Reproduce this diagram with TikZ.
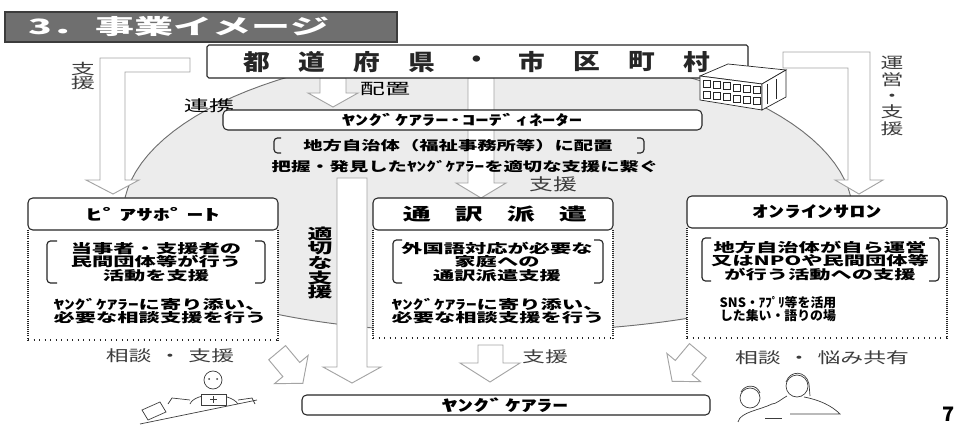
\documentclass[tikz,border=0pt]{standalone}
\usepackage{fontspec}
\usepackage{tikz}
\usetikzlibrary{positioning, calc}

\newfontfamily\jp{Noto Sans CJK JP}

\definecolor{Ink}{HTML}{262626}
\definecolor{SoftInk}{HTML}{3C3C3C}
\definecolor{TitleGray}{HTML}{6F6F6F}
\definecolor{ZoneGray}{HTML}{ECECEC}
\definecolor{ZoneLine}{HTML}{707070}
\definecolor{ArrowGray}{HTML}{A4A4A4}

% size, line pitch, horizontal stretch
\newcommand{\jpr}[3]{\jp\fontsize{#1}{#2}\selectfont\addfontfeature{FakeStretch=#3}}
\newcommand{\jpb}[3]{\jp\bfseries\fontsize{#1}{#2}\selectfont\addfontfeature{FakeStretch=#3}}

\begin{document}
\begin{tikzpicture}[x=0.03cm, y=-0.03cm,
    box/.style={draw=Ink, line width=0.9pt, fill=white, rounded corners=4pt},
    sidedots/.style={draw=Ink, line width=1.4pt, dash pattern=on 0.5pt off 1.3pt},
    basedots/.style={draw=Ink, line width=1.4pt, dash pattern=on 0.5pt off 4.2pt},
    hollow/.style={draw=ArrowGray, line width=0.8pt, fill=white},
    bracket/.style={draw=Ink, line width=1pt, rounded corners=3pt},
    figure/.style={draw=SoftInk, line width=0.6pt},
]
    \useasboundingbox (0,0) rectangle (956,429);

    % Shared area behind the three services
    \filldraw[fill=ZoneGray, draw=ZoneLine, line width=0.8pt]
        plot[domain=180:360, samples=60] ({488+365*cos(\x)}, {215+165*sin(\x)})
        .. controls (853,300) and (700,330) .. (488,333)
        .. controls (300,333) and (123,295) .. (123,215) -- cycle;

    % Block arrows
    \draw[hollow] (190,58) -- (100,58) -- (100,180) -- (86,180) -- (113,194)
        -- (139,180) -- (125,180) -- (125,72) -- (190,72) -- cycle;
    \draw[hollow] (783,52) -- (870,52) -- (870,180) -- (883,180) -- (859,194)
        -- (835,180) -- (848,180) -- (848,68) -- (783,68) -- cycle;
    \draw[hollow] (320,78) -- (320,93) -- (308,93) -- (333,107) -- (358,93)
        -- (346,93) -- (346,78) -- cycle;
    \draw[hollow] (468,78) -- (468,183) -- (456,183) -- (481,198) -- (506,183)
        -- (494,183) -- (494,78) -- cycle;
    \draw[hollow] (337,178) -- (337,367) -- (323,367) -- (352,383) -- (381,367)
        -- (367,367) -- (367,178) -- cycle;
    \draw[hollow] (478,345) -- (478,363) -- (460,363) -- (490,382) -- (520,363)
        -- (503,363) -- (503,345) -- cycle;
    \begin{scope}[shift={(290,368)}, rotate=40]
        \draw[hollow] (-11,-20) -- (-11,2) -- (-22,2) -- (0,20) -- (22,2) -- (11,2) -- (11,-20) -- cycle;
    \end{scope}
    \begin{scope}[shift={(685,366)}, rotate=-40]
        \draw[hollow] (-11,-20) -- (-11,2) -- (-22,2) -- (0,20) -- (22,2) -- (11,2) -- (11,-20) -- cycle;
    \end{scope}

    % Title bar
    \draw[fill=TitleGray, draw=SoftInk, line width=1pt] (5,12) rectangle (397,42);
    \node[anchor=west, inner sep=0, text=white, font=\jpb{18}{20}{1.85}] (title) at (28,27)
        {3．\hspace{4pt}事業イメージ};

    % Prefectures and municipalities
    \draw[box, rounded corners=1.5pt] (207,45) rectangle (748,78);
    \foreach \kanji [count=\i from 0] in {都,道,府,県,・,市,区,町,村}
        \node[font=\jpb{19}{21}{1.2}, text=Ink] (pref-\i) at (257+55*\i,62) {\kanji};

    % Building
    \draw[figure, draw=Ink, fill=white] (700,76) -- (728,64) -- (786,70) -- (762,84) -- cycle;
    \draw[figure, draw=Ink, fill=white] (700,76) -- (762,84) -- (762,110) -- (700,100) -- cycle;
    \draw[figure, draw=Ink, fill=white] (762,84) -- (786,70) -- (786,97) -- (762,110) -- cycle;
    \foreach \col in {0,...,5}
        \foreach \row in {0,1}
            \draw[figure, draw=Ink] ({703+10*\col},{80+1.29*\col+11*\row}) rectangle ++(7,7);
    \foreach \col in {0,1}
        \draw[figure, draw=Ink] ({767+9*\col},{84-5*\col}) -- ++(0,20);

    % Coordinator
    \node[font=\jpr{13}{15}{1.65}] (place-arrow) at (385,89) {配置};
    \node[font=\jpr{13}{15}{1.65}] (link) at (209,106) {連携};
    \draw[box] (223,110) rectangle (702,130);
    \node[font=\jpb{12}{14}{1.9}] (coord) at (462,120) {ﾔﾝｸﾞｹｱﾗｰ･ｺｰﾃﾞｨﾈｰﾀｰ};
    \draw[bracket] (281,138) -- (274,138) -- (274,153) -- (281,153);
    \draw[bracket] (637,138) -- (644,138) -- (644,153) -- (637,153);
    \node[font=\jpb{11}{13}{1.5}] (place) at (458,146) {地方自治体（福祉事務所等）に配置};
    \node[font=\jpb{11}{13}{1.5}] (find) at (465,167) {把握・発見したﾔﾝｸﾞｹｱﾗｰを適切な支援に繋ぐ};
    \node[font=\jpr{14}{16}{1.45}, text=SoftInk] (help-mid) at (553,184) {支援};

    % Side labels
    \node[font=\jpr{12.5}{12}{1.65}, align=center, text=SoftInk] (help-left) at (83,76) {支\\援};
    \node[font=\jpr{13}{14}{1.5}, align=center, text=SoftInk] (run-right) at (892,96) {運\\営\\・\\支\\援};
    \node[font=\jpb{12.5}{12.5}{1.7}, align=center] (proper) at (320,263) {適\\切\\な\\支\\援};

    % Peer support
    \fill[white] (28,230) rectangle (278,340);
    \draw[sidedots] (28,230) -- (28,340);
    \draw[sidedots] (278,230) -- (278,340);
    \draw[basedots] (28,340) -- (278,340);
    \draw[box] (28,198) rectangle (278,230);
    \node[font=\jpb{13}{15}{2.2}] (peer) at (153,214) {ﾋﾟｱｻﾎﾟｰﾄ};
    \draw[bracket] (57,241) -- (47,241) -- (47,283) -- (57,283);
    \draw[bracket] (255,241) -- (265,241) -- (265,283) -- (255,283);
    \node[font=\jpb{11}{11.6}{1.65}, align=center] (peer-what) at (156,262)
        {当事者・支援者の\\民間団体等が行う\\活動を支援};
    \node[font=\jpb{11}{11.6}{1.65}, align=center] (peer-how) at (160,311)
        {ﾔﾝｸﾞｹｱﾗｰに寄り添い、\\必要な相談支援を行う};

    % Interpreter dispatch
    \fill[white] (373,230) rectangle (613,338);
    \draw[sidedots] (373,230) -- (373,338);
    \draw[sidedots] (613,230) -- (613,338);
    \draw[basedots] (373,338) -- (613,338);
    \draw[box] (373,198) rectangle (613,230);
    \foreach \kanji [count=\i from 0] in {通,訳,派,遣}
        \node[font=\jpb{14.5}{16}{1.65}] (interp-\i) at (417+52*\i,214) {\kanji};
    \draw[bracket] (402,240) -- (393,240) -- (393,283) -- (402,283);
    \draw[bracket] (594,240) -- (603,240) -- (603,283) -- (594,283);
    \node[font=\jpb{11}{11.6}{1.65}, align=center] (interp-what) at (497,262)
        {外国語対応が必要な\\家庭への\\通訳派遣支援};
    \node[font=\jpb{11}{11.6}{1.65}, align=center] (interp-how) at (498,311)
        {ﾔﾝｸﾞｹｱﾗｰに寄り添い、\\必要な相談支援を行う};

    % Online salon
    \fill[white] (687,228) rectangle (947,338);
    \draw[sidedots] (687,228) -- (687,338);
    \draw[sidedots] (947,228) -- (947,338);
    \draw[basedots] (687,338) -- (947,338);
    \draw[box] (687,196) rectangle (947,228);
    \node[font=\jpb{13.5}{15}{2.05}] (salon) at (817,212) {ｵﾝﾗｲﾝｻﾛﾝ};
    \draw[bracket] (711,238) -- (702,238) -- (702,281) -- (711,281);
    \draw[bracket] (929,238) -- (939,238) -- (939,281) -- (929,281);
    \node[font=\jpb{11}{11.6}{1.65}, align=center] (salon-what) at (820,261)
        {地方自治体が自ら運営\\又はNPOや民間団体等\\が行う活動への支援};
    \node[font=\jpb{11}{11.6}{1}, align=center] (salon-how) at (778,309)
        {SNS・ｱﾌﾟﾘ等を活用\\した集い・語りの場};

    % Bottom labels
    \node[font=\jpr{13}{15}{1.5}, text=SoftInk] (talk-left) at (170,356) {相談\hspace{6pt}・\hspace{6pt}支援};
    \node[font=\jpr{13}{15}{1.5}, text=SoftInk] (help-bottom) at (545,357) {支援};
    \node[font=\jpr{13}{15}{1.5}, text=SoftInk] (talk-right) at (822,358) {相談\hspace{6pt}・\hspace{6pt}悩み共有};

    % Young carers
    \draw[box] (302,395) rectangle (710,415);
    \node[font=\jpb{13.5}{15}{2}] (carer) at (505,405) {ﾔﾝｸﾞｹｱﾗｰ};

    % Person at a desk
    \draw[figure] (213,380) circle [radius=9];
    \fill[SoftInk] (209,379) circle [radius=1] (217,379) circle [radius=1];
    \draw[figure] (190,404) .. controls (195,392) and (230,392) .. (238,404);
    \draw[figure] (190,400) -- (172,398) -- (168,404);
    \draw[figure] (238,400) -- (252,398) -- (255,404);
    \draw[figure, fill=white] (201,394) rectangle (226,405);
    \draw[figure] (213.5,396) -- (213.5,403) (210,399.5) -- (217,399.5);
    \draw[figure] (140,424) -- (257,400);
    \draw[figure] (142,410) -- (160,402) -- (166,412) -- (148,420) -- cycle;

    % Two people talking
    \draw[figure] (750,398) circle [radius=10];
    \draw[figure] (741,392) .. controls (745,384) and (757,384) .. (760,393);
    \draw[figure] (738,422) .. controls (740,412) and (760,410) .. (772,404);
    \draw[figure] (797,386) circle [radius=11];
    \draw[figure] (786,382) .. controls (790,370) and (806,370) .. (809,384) -- (810,396);
    \draw[figure] (787,396) .. controls (780,400) and (776,404) .. (772,404);
    \draw[figure] (804,397) .. controls (820,400) and (832,406) .. (840,414) -- (790,414);
    \draw[figure] (765,418) -- (782,418);

    % Page number
    \node[anchor=west, inner sep=0, font=\jpb{17}{18}{1}] (page) at (942,414) {7};
\end{tikzpicture}
\end{document}
